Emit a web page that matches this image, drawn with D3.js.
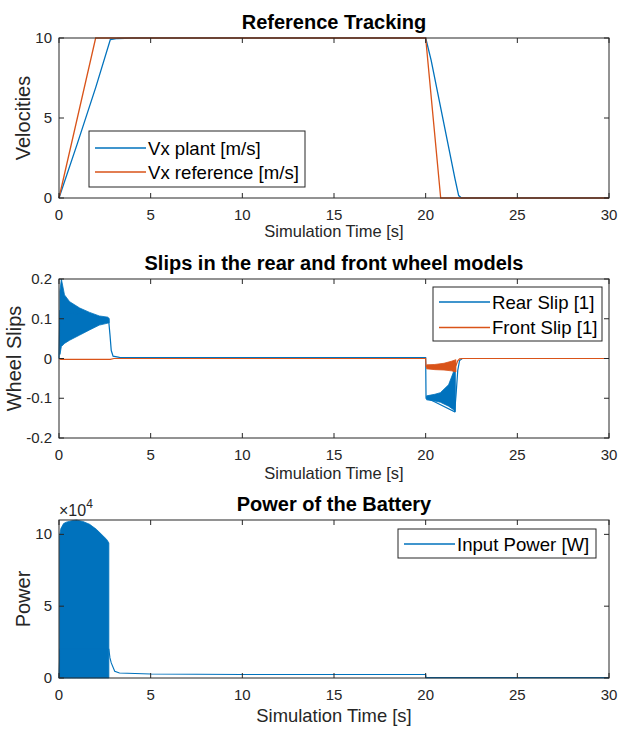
<!DOCTYPE html>
<html>
<head>
<meta charset="utf-8">
<script src="https://cdn.jsdelivr.net/npm/d3@7"></script>
<style>
  body { margin: 0; background: #fff; }
  svg { display: block; font-family: "Liberation Sans", Arial, sans-serif; }
</style>
</head>
<body>
<svg width="620" height="729"></svg>
<script>
// ---- panel 1 : reference tracking
var plantTime = [0, 1, 2, 2.8, 3.2, 4, 20, 20.3, 21.6, 21.8, 21.95, 30];
var plantVx   = [0, 3.4, 6.9, 9.9, 9.97, 10, 10, 8.6, 1.2, 0.15, 0, 0];
var refTime = [0, 2, 20, 20.82, 30];
var refVx   = [0, 10, 10, 0, 0];

// ---- panel 2 : wheel slips (bands = envelope of the fast oscillation)
var rearTime = [0, 0.05, 2.7, 2.78, 2.85, 2.95, 3.3, 5, 20, 20.02, 20.1, 21.58, 21.66, 21.75, 21.85, 22, 30];
var rearSlip = [0, 0.12, 0.1, 0.06, 0.02, 0.006, 0.003, 0.002, 0.002, -0.1, -0.1, -0.134, -0.09, -0.03, -0.005, 0, 0];
var rearBand1Time = [0.05, 0.13, 0.3, 0.58, 1.13, 1.67, 2.2, 2.67, 2.74];
var rearBand1High = [0.17, 0.2, 0.16, 0.143, 0.127, 0.116, 0.107, 0.104, 0.1];
var rearBand1Low  = [0.01, 0.03, 0.038, 0.046, 0.059, 0.072, 0.084, 0.089, 0.09];
var rearBand2Time = [20.05, 20.5, 20.8, 21.25, 21.5, 21.62];
var rearBand2High = [-0.094, -0.09, -0.086, -0.066, -0.036, -0.012];
var rearBand2Low  = [-0.104, -0.107, -0.11, -0.12, -0.128, -0.134];
var frontTime = [0, 0.1, 2.8, 3, 20, 20.02, 20.1, 21.65, 21.75, 21.85, 22, 30];
var frontSlip = [0, -0.002, -0.002, 0, 0, -0.02, -0.021, -0.018, -0.006, -0.001, 0, 0];
var frontBandTime = [20.05, 20.5, 21.0, 21.4, 21.65];
var frontBandHigh = [-0.016, -0.015, -0.012, -0.007, -0.003];
var frontBandLow  = [-0.026, -0.028, -0.029, -0.031, -0.034];

// ---- panel 3 : battery power [W]
var powerTime = [0, 0.05, 2.72, 2.78, 2.85, 3.04, 3.3, 5, 10, 20, 20.02, 30];
var power     = [0, 20000, 20000, 14000, 10500, 4700, 3500, 2800, 2400, 2400, 250, 250];
var powerBandTime = [0.03, 0.1, 0.25, 0.4, 0.7, 0.95, 1.3, 1.67, 2.04, 2.4, 2.6, 2.72];
var powerBandHigh = [99000, 104000, 107500, 108500, 109500, 110000, 109000, 107000, 103500, 99000, 96500, 94000];

var xTicks = [0, 5, 10, 15, 20, 25, 30];

var blue = "#0072BD", orange = "#D95319", axisCol = "#262626";
var svg = d3.select("svg");

function zip(t, v) { return t.map(function(d, i) { return [d, v[i]]; }); }
function zip3(t, a, b) { return t.map(function(d, i) { return [d, a[i], b[i]]; }); }

function panel(cfg) {
  var x = d3.scaleLinear().domain([0, 30]).range([59, 609]);
  var y = d3.scaleLinear().domain(cfg.yDomain).range([cfg.bottom, cfg.top]);
  var g = svg.append("g");

  // data
  var area = d3.area().x(function(d) { return x(d[0]); })
    .y0(function(d) { return y(d[2]); }).y1(function(d) { return y(d[1]); });
  var line = d3.line().x(function(d) { return x(d[0]); }).y(function(d) { return y(d[1]); });
  cfg.series.forEach(function(s) {
    if (s.band) {
      g.append("path").datum(s.band).attr("d", area)
        .attr("fill", s.color).attr("stroke", s.color).attr("stroke-width", 0.8);
    } else {
      g.append("path").datum(s.pts).attr("d", line)
        .attr("fill", "none").attr("stroke", s.color).attr("stroke-width", s.w || 1.3);
    }
  });

  // box + ticks on all four sides
  g.append("rect").attr("x", 59).attr("y", cfg.top).attr("width", 550).attr("height", cfg.bottom - cfg.top)
    .attr("fill", "none").attr("stroke", axisCol).attr("stroke-width", 1);
  var tl = 5;
  xTicks.forEach(function(t) {
    g.append("line").attr("x1", x(t)).attr("x2", x(t)).attr("y1", cfg.bottom).attr("y2", cfg.bottom - tl).attr("stroke", axisCol);
    g.append("line").attr("x1", x(t)).attr("x2", x(t)).attr("y1", cfg.top).attr("y2", cfg.top + tl).attr("stroke", axisCol);
    g.append("text").attr("x", x(t)).attr("y", cfg.bottom + 22).attr("text-anchor", "middle")
      .attr("font-size", 15).attr("fill", axisCol).text(t);
  });
  cfg.yTicks.forEach(function(t, i) {
    g.append("line").attr("x1", 59).attr("x2", 59 + tl).attr("y1", y(t)).attr("y2", y(t)).attr("stroke", axisCol);
    g.append("line").attr("x1", 609).attr("x2", 609 - tl).attr("y1", y(t)).attr("y2", y(t)).attr("stroke", axisCol);
    g.append("text").attr("x", 52).attr("y", y(t) + 5).attr("text-anchor", "end")
      .attr("font-size", 15).attr("fill", axisCol).text(cfg.yTickLabels[i]);
  });

  // labels
  g.append("text").attr("x", 334).attr("y", cfg.top - 9).attr("text-anchor", "middle")
    .attr("font-size", 20).attr("font-weight", "bold").attr("fill", "#000").text(cfg.title);
  g.append("text").attr("x", 334).attr("y", cfg.bottom + cfg.xlabDy).attr("text-anchor", "middle")
    .attr("font-size", cfg.xlabSize).attr("fill", axisCol).text("Simulation Time [s]");
  g.append("text").attr("transform", "translate(" + cfg.ylabX + "," + ((cfg.top + cfg.bottom) / 2) + ") rotate(-90)")
    .attr("text-anchor", "middle").attr("font-size", 20).attr("fill", axisCol).text(cfg.ylabel);

  // legend
  var L = cfg.legend;
  g.append("rect").attr("x", L.x).attr("y", L.y).attr("width", L.w).attr("height", L.h)
    .attr("fill", "#fff").attr("stroke", axisCol).attr("stroke-width", 1);
  L.items.forEach(function(it, i) {
    var yy = L.y + L.first + i * L.step;
    g.append("line").attr("x1", L.x + 6).attr("x2", L.x + 57).attr("y1", yy).attr("y2", yy)
      .attr("stroke", it.color).attr("stroke-width", 1.3);
    g.append("text").attr("x", L.x + 59).attr("y", yy + 6.5).attr("font-size", 18.6)
      .attr("fill", "#000").text(it.name);
  });
  return g;
}

panel({
  top: 38, bottom: 198, yDomain: [0, 10], yTicks: [0, 5, 10], yTickLabels: ["0", "5", "10"],
  title: "Reference Tracking", ylabel: "Velocities", ylabX: 30, xlabDy: 39, xlabSize: 16.5,
  series: [
    { pts: zip(plantTime, plantVx), color: blue },
    { pts: zip(refTime, refVx), color: orange }
  ],
  legend: { x: 89, y: 131, w: 216, h: 56, first: 17, step: 24,
    items: [{ name: "Vx plant [m/s]", color: blue }, { name: "Vx reference [m/s]", color: orange }] }
});

panel({
  top: 279, bottom: 438, yDomain: [-0.2, 0.2], yTicks: [-0.2, -0.1, 0, 0.1, 0.2],
  yTickLabels: ["-0.2", "-0.1", "0", "0.1", "0.2"],
  title: "Slips in the rear and front wheel models", ylabel: "Wheel Slips", ylabX: 21, xlabDy: 41, xlabSize: 16.5,
  series: [
    { band: zip3(rearBand1Time, rearBand1High, rearBand1Low), color: blue },
    { band: zip3(rearBand2Time, rearBand2High, rearBand2Low), color: blue },
    { pts: zip(rearTime, rearSlip), color: blue, w: 1.2 },
    { band: zip3(frontBandTime, frontBandHigh, frontBandLow), color: orange },
    { pts: zip(frontTime, frontSlip), color: orange, w: 1.2 }
  ],
  legend: { x: 433, y: 287, w: 169, h: 54, first: 15, step: 25.5,
    items: [{ name: "Rear Slip [1]", color: blue }, { name: "Front Slip [1]", color: orange }] }
});

var p3 = panel({
  top: 520, bottom: 678, yDomain: [0, 110000], yTicks: [0, 50000, 100000], yTickLabels: ["0", "5", "10"],
  title: "Power of the Battery", ylabel: "Power", ylabX: 30, xlabDy: 44, xlabSize: 18.4,
  series: [
    { band: zip3(powerBandTime, powerBandHigh, powerBandTime.map(function() { return 0; })), color: blue },
    { pts: zip(powerTime, power), color: blue, w: 1.1 }
  ],
  legend: { x: 398, y: 529, w: 198, h: 29, first: 15, step: 0,
    items: [{ name: "Input Power [W]", color: blue }] }
});

// exponent label
var ex = p3.append("text").attr("x", 59).attr("y", 516).attr("font-size", 16).attr("fill", axisCol);
ex.append("tspan").text("\u00d710");
ex.append("tspan").attr("dy", -8).attr("font-size", 12).text("4");
</script>
</body>
</html>
